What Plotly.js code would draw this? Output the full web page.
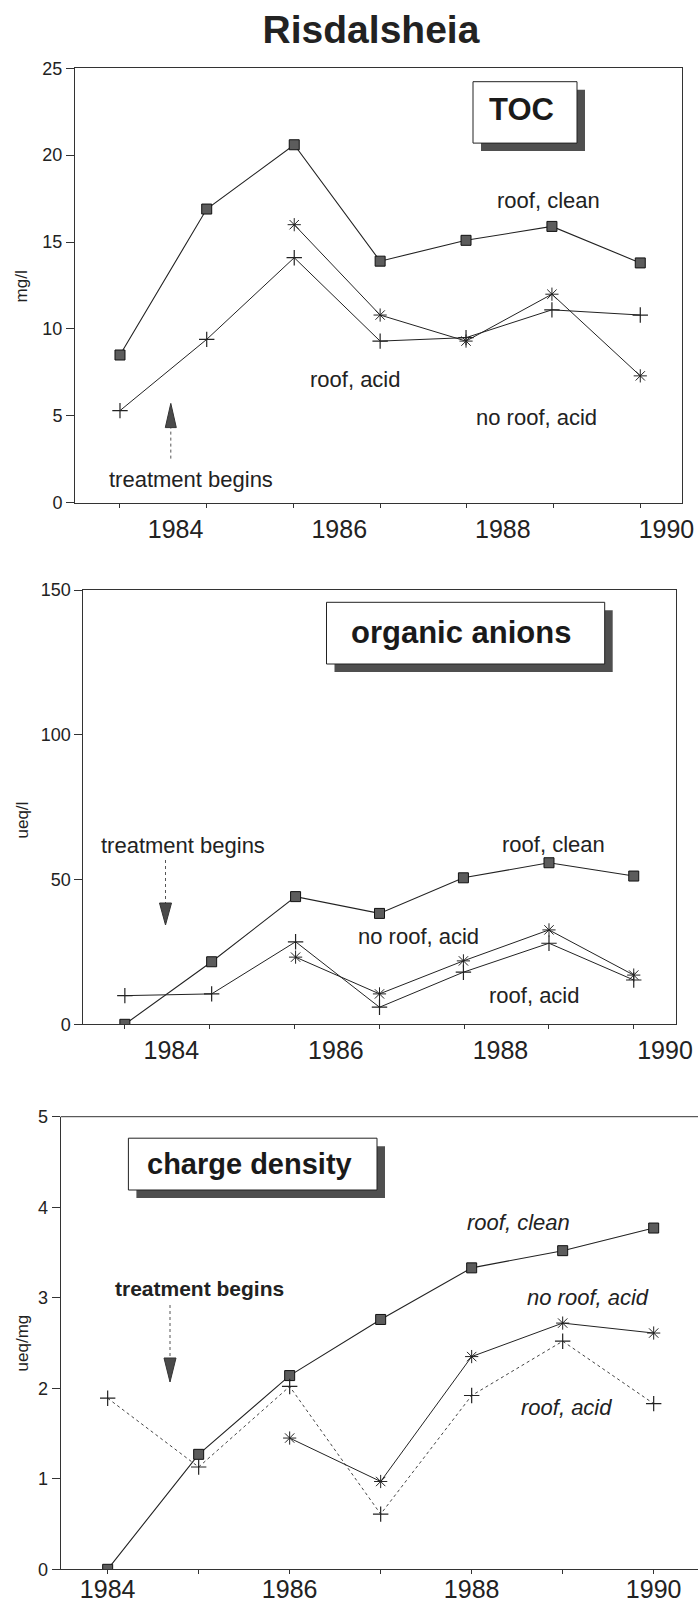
<!DOCTYPE html>
<html>
<head>
<meta charset="utf-8">
<script src="https://cdn.plot.ly/plotly-3.0.1.min.js"></script>
<style>html,body{margin:0;padding:0;background:#fff;}#chart{width:698px;height:1604px;}</style>
</head>
<body>
<div id="chart"></div>
<script>
// ---------- data ----------
const chartTitle = 'Risdalsheia';
const seriesNames = ['roof, clean', 'roof, acid', 'no roof, acid'];

// TOC panel (x positions as plotted on the reference axis)
const tocYears = [1983.32, 1984.38, 1985.45, 1986.50, 1987.55, 1988.60, 1989.68];
const tocRoofClean = [8.5, 16.9, 20.6, 13.9, 15.1, 15.9, 13.8];
const tocRoofAcid = [5.3, 9.4, 14.1, 9.3, 9.5, 11.1, 10.8];
const tocNoRoofAcid = [null, null, 16.0, 10.8, 9.3, 12.0, 7.3];
const tocYTicks = [0, 5, 10, 15, 20, 25];

// organic anions panel
const anionYears = [1983.435, 1984.49, 1985.51, 1986.53, 1987.55, 1988.59, 1989.62];
const anionRoofClean = [0, 21.6, 44.1, 38.3, 50.6, 55.8, 51.2];
const anionRoofAcid = [9.9, 10.5, 28.5, 5.9, 18.0, 28.0, 15.3];
const anionNoRoofAcid = [null, null, 23.2, 10.5, 21.9, 32.6, 17.0];
const anionYTicks = [0, 50, 100, 150];

// charge density panel
const chargeYears = [1984, 1985, 1986, 1987, 1988, 1989, 1990];
const chargeRoofClean = [0, 1.27, 2.14, 2.76, 3.33, 3.52, 3.77];
const chargeRoofAcid = [1.89, 1.13, 2.02, 0.61, 1.92, 2.52, 1.83];
const chargeNoRoofAcid = [null, null, 1.45, 0.97, 2.35, 2.72, 2.61];
const chargeYTicks = [0, 1, 2, 3, 4, 5];

const xTickYears = [1984, 1986, 1988, 1990];
const xTickLabels = ['1984', '1986', '1988', '1990'];

// ---------- helpers ----------
const W = 698, H = 1604;
const px = X => X / W;
const py = Y => 1 - Y / H;
const FONT = '"Liberation Sans", Arial, Helvetica, sans-serif';
const INK = '#222';

function seriesTraces(xs, clean, acid, noRoof, xa, ya, acidDash) {
  return [
    {x: xs, y: clean, xaxis: xa, yaxis: ya, name: seriesNames[0], type: 'scatter', mode: 'lines+markers',
     line: {color: INK, width: 1.1}, marker: {symbol: 'square', size: 10, color: '#5c5c5c', line: {color: '#111', width: 1}}},
    {x: xs, y: acid, xaxis: xa, yaxis: ya, name: seriesNames[1], type: 'scatter', mode: 'lines+markers',
     line: {color: acidDash ? '#444' : INK, width: 1, dash: acidDash || 'solid'},
     marker: {symbol: 'cross-thin-open', size: 11, color: INK, line: {color: INK, width: 1.2}}},
    {x: xs, y: noRoof, xaxis: xa, yaxis: ya, name: seriesNames[2], type: 'scatter', mode: 'lines+markers',
     connectgaps: false,
     line: {color: INK, width: 1}, marker: {symbol: 'asterisk-open', size: 11, color: INK, line: {color: INK, width: 1}}}
  ];
}

const data = [].concat(
  seriesTraces(tocYears, tocRoofClean, tocRoofAcid, tocNoRoofAcid, 'x', 'y', null),
  seriesTraces(anionYears, anionRoofClean, anionRoofAcid, anionNoRoofAcid, 'x2', 'y2', null),
  seriesTraces(chargeYears, chargeRoofClean, chargeRoofAcid, chargeNoRoofAcid, 'x3', 'y3', 'dot')
);

function xAxis(domain, range, anchor, minor, mirror, labelsAtTicks, standoff) {
  return {
    domain: domain, range: range, anchor: anchor,
    tickvals: xTickYears, ticktext: xTickLabels,
    ticks: 'outside', ticklen: 4,
    tickcolor: labelsAtTicks ? '#333' : 'rgba(0,0,0,0)',
    ticklabelstandoff: standoff,
    tickfont: {family: FONT, size: 25, color: INK},
    showline: true, linecolor: '#333', linewidth: 1, mirror: mirror,
    showgrid: false, zeroline: false, fixedrange: true,
    minor: Object.assign({ticks: 'outside', ticklen: 4, tickcolor: '#333', showgrid: false}, minor)
  };
}
function yAxis(domain, range, anchor, tickvals, mirror) {
  return {
    domain: domain, range: range, anchor: anchor, tickvals: tickvals,
    ticks: 'outside', ticklen: 8, tickcolor: '#333',
    tickfont: {family: FONT, size: 18, color: INK},
    showline: true, linecolor: '#333', linewidth: 1, mirror: mirror,
    showgrid: false, zeroline: false, fixedrange: true
  };
}

const layout = {
  width: W, height: H,
  margin: {l: 0, r: 0, t: 0, b: 0},
  paper_bgcolor: '#fff', plot_bgcolor: '#fff',
  showlegend: false,
  font: {family: FONT, color: INK},
  title: {text: '<b>' + chartTitle + '</b>', font: {family: FONT, size: 39, color: INK},
          x: px(371), xanchor: 'center', xref: 'paper', y: 1 - 29 / H, yanchor: 'middle'},
  xaxis: xAxis([px(75), px(682)], [1982.77, 1990.19], 'y', {tick0: 1983.32, dtick: 1.06}, true, false, 0),
  yaxis: yAxis([py(502.7), py(68.3)], [0, 25], 'x', tocYTicks, true),
  xaxis2: xAxis([px(83.3), px(675.7)], [1982.93, 1990.13], 'y2', {tick0: 1983.435, dtick: 1.031}, true, false, 0),
  yaxis2: yAxis([py(1024.3), py(590)], [0, 150], 'x2', anionYTicks, true),
  xaxis3: xAxis([px(60.7), 1], [1983.484, 1990.487], 'y3', {tick0: 1984, dtick: 1}, false, true, -6),
  yaxis3: yAxis([py(1569.3), py(1116.7)], [0, 5], 'x3', chargeYTicks, false),
  shapes: [],
  annotations: []
};

// top border of the charge density panel (no right border in the reference)
layout.shapes.push({type: 'line', xref: 'x3 domain', yref: 'y3 domain', x0: 0, x1: 1, y0: 1, y1: 1,
                    line: {color: '#333', width: 1}});

// boxed panel labels with drop shadow
function labelBox(x0, y0, x1, y1, text, cx, cy, size) {
  layout.shapes.push({type: 'rect', xref: 'paper', yref: 'paper',
    x0: px(x0 + 8), x1: px(x1 + 8), y0: py(y1 + 8), y1: py(y0 + 8),
    fillcolor: '#4f4f4f', line: {width: 0}});
  layout.shapes.push({type: 'rect', xref: 'paper', yref: 'paper',
    x0: px(x0), x1: px(x1), y0: py(y1), y1: py(y0),
    fillcolor: '#fff', line: {color: '#222', width: 1}});
  layout.annotations.push({xref: 'paper', yref: 'paper', x: px(cx), y: py(cy), xanchor: 'center', yanchor: 'middle',
    text: '<b>' + text + '</b>', showarrow: false, font: {family: FONT, size: size, color: '#1a1a1a'}});
}
labelBox(473, 81.7, 577, 143.1, 'TOC', 521, 109, 31);
labelBox(326.5, 602.3, 604.7, 664, 'organic anions', 461, 632, 31);
labelBox(128.4, 1138.2, 377, 1190, 'charge density', 249, 1164, 29);

// series labels
function note(text, cx, cy, size, style) {
  let t = text;
  if (style === 'i') t = '<i>' + text + '</i>';
  if (style === 'b') t = '<b>' + text + '</b>';
  layout.annotations.push({xref: 'paper', yref: 'paper', x: px(cx), y: py(cy), xanchor: 'center', yanchor: 'middle',
    text: t, showarrow: false, font: {family: FONT, size: size, color: INK}});
}
note(seriesNames[0], 548, 200, 22);
note(seriesNames[1], 355.5, 379, 22);
note(seriesNames[2], 536.7, 417, 22);
note('treatment begins', 191.4, 479, 22);

note(seriesNames[0], 553.2, 844, 22);
note(seriesNames[2], 418.2, 936.7, 22);
note(seriesNames[1], 534.4, 995, 22);
note('treatment begins', 183.4, 845.7, 22);

note(seriesNames[0], 518, 1222, 22, 'i');
note(seriesNames[2], 588, 1297, 22, 'i');
note(seriesNames[1], 566, 1407, 22, 'i');
note('treatment begins', 199, 1288, 21, 'b');

// y-axis unit labels
function yLabel(text, cx, cy) {
  layout.annotations.push({xref: 'paper', yref: 'paper', x: px(cx), y: py(cy), xanchor: 'center', yanchor: 'middle',
    text: text, textangle: -90, showarrow: false, font: {family: FONT, size: 17, color: INK}});
}
yLabel('mg/l', 22.4, 286);
yLabel('ueq/l', 21.5, 820);
yLabel('ueq/mg', 22.4, 1343);

// "treatment begins" arrows: dotted shaft with filled head
function arrow(x, yTail, yBase, yTip, halfW) {
  layout.shapes.push({type: 'line', xref: 'paper', yref: 'paper', x0: px(x), x1: px(x), y0: py(yTail), y1: py(yBase),
    line: {color: '#555', width: 1, dash: 'dot'}});
  const path = 'M ' + px(x - halfW) + ' ' + py(yBase) + ' L ' + px(x + halfW) + ' ' + py(yBase) +
               ' L ' + px(x) + ' ' + py(yTip) + ' Z';
  layout.shapes.push({type: 'path', xref: 'paper', yref: 'paper', path: path,
    fillcolor: '#4a4a4a', line: {color: '#333', width: 1}});
}
arrow(170.8, 458.6, 427.6, 403.4, 5.5);
arrow(165.5, 860, 903, 925, 6);
arrow(170, 1305, 1358, 1382, 6);

Plotly.newPlot('chart', data, layout, {staticPlot: true, displayModeBar: false});
</script>
</body>
</html>
